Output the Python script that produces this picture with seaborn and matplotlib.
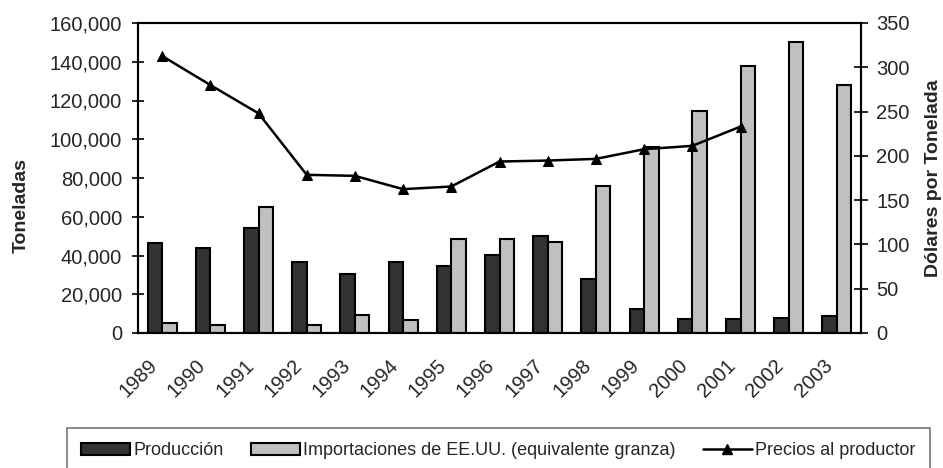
import matplotlib
matplotlib.use("Agg")
import matplotlib.pyplot as plt
import matplotlib.ticker as mticker
from matplotlib.lines import Line2D
from matplotlib.patches import Patch
import numpy as np
import pandas as pd
import seaborn as sns

years = ["1989", "1990", "1991", "1992", "1993", "1994", "1995", "1996",
         "1997", "1998", "1999", "2000", "2001", "2002", "2003"]
produccion = [46200, 44000, 54100, 36600, 30600, 36600, 34700, 40200,
              50200, 27700, 12400, 7200, 7200, 7600, 8900]
importaciones = [5100, 4300, 64800, 3900, 9100, 6500, 48500, 48600,
                 46900, 75800, 95800, 114500, 137700, 150000, 128000]
precios = [312.8, 280.0, 248.0, 178.6, 177.4, 162.4, 165.4, 193.6,
           194.7, 196.6, 207.5, 211.3, 233.0]

lbl_prod = "Producción"
lbl_imp = "Importaciones de EE.UU. (equivalente granza)"
lbl_prec = "Precios al productor"

sns.set_style("white")
plt.rcParams["font.family"] = ["Liberation Sans", "DejaVu Sans"]

df = pd.DataFrame({"year": years * 2,
                   "value": produccion + importaciones,
                   "serie": [lbl_prod] * len(years) + [lbl_imp] * len(years)})

fig = plt.figure(figsize=(9.43, 4.68), dpi=100)
ax = fig.add_axes([138 / 943, 135 / 468, 723 / 943, 310 / 468])

sns.barplot(data=df, x="year", y="value", hue="serie", order=years,
            palette=["#333333", "#c0c0c0"], width=0.6, edgecolor="black",
            linewidth=1.5, saturation=1, legend=False, ax=ax)

ax2 = ax.twinx()
sns.lineplot(x=np.arange(len(precios)), y=precios, color="black", linewidth=1.8,
             marker="^", markersize=7.5, markeredgecolor="black", ax=ax2)

ax.set_xlim(-0.5, len(years) - 0.5)
ax.set_ylim(0, 160000)
ax2.set_ylim(0, 350)
ax.yaxis.set_major_locator(mticker.MultipleLocator(20000))
ax.yaxis.set_major_formatter(mticker.StrMethodFormatter("{x:,.0f}"))
ax2.yaxis.set_major_locator(mticker.MultipleLocator(50))

# year labels sit a little left of the category centre, as in the original
ax.set_xticks(np.arange(len(years)) - 0.16)
ax.set_xticklabels(years, rotation=45, ha="right", va="center",
                   rotation_mode="anchor", fontsize=14.5)
ax.set_xticks(np.arange(-0.5, len(years), 1), minor=True)
ax.tick_params(axis="x", which="major", length=0, pad=21)
ax.tick_params(axis="x", which="minor", length=9, width=1.2,
               direction="inout", color="black")
ax.tick_params(axis="y", length=9, width=1.2, direction="inout",
               labelsize=14.5, color="black", left=True, pad=7)
ax2.tick_params(axis="y", length=10, width=1.2, direction="inout",
                labelsize=14.5, color="black", right=True, pad=6)

ax.set_xlabel("")
ax.set_ylabel("Toneladas", fontsize=14, fontweight="bold")
ax.yaxis.set_label_coords(-0.150, 0.41)
ax2.set_xlabel("")
ax2.set_ylabel("Dólares por Tonelada", fontsize=14, fontweight="bold")
ax2.yaxis.set_label_coords(1.089, 0.5)

for a in (ax, ax2):
    for s in a.spines.values():
        s.set_color("black")
        s.set_linewidth(1.5)

handles = [Patch(facecolor="#333333", edgecolor="black", linewidth=1.5),
           Patch(facecolor="#c0c0c0", edgecolor="black", linewidth=1.5),
           Line2D([], [], color="black", linewidth=1.8, marker="^", markersize=7)]
leg = fig.legend(handles, [lbl_prod, lbl_imp, lbl_prec], ncol=3,
                 loc="upper left", bbox_to_anchor=(67 / 943, -0.2, 863 / 943, 0.2 + 40 / 468),
                 mode="expand", fontsize=13, frameon=True, fancybox=False,
                 handlelength=2.7, handleheight=0.7, handletextpad=0.2,
                 borderpad=0.8, borderaxespad=0)
leg.get_frame().set_edgecolor("#555555")
leg.get_frame().set_linewidth(1.2)

fig.savefig("out.png", dpi=100)
